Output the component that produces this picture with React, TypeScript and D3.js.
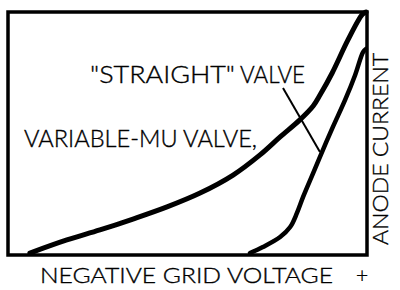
import React from "react";
import * as d3 from "d3";

const variableMuX = [6.1, 16.4, 25.6, 34.8, 44.3, 53.5, 62.7, 70.2, 75.8, 81.3, 85.0, 86.9, 90.3, 94.7, 98.6, 99.7];
const variableMuY = [0.8, 6.2, 10.3, 14.8, 19.8, 25.5, 32.9, 41.2, 48.6, 55.6, 61.3, 65.8, 74.9, 88.5, 98.8, 100];

const straightX = [67.4, 71.0, 75.8, 78.6, 80.5, 82.2, 85.0, 87.7, 90.5, 93.9, 96.7, 98.9, 99.7];
const straightY = [0.8, 3.3, 7.4, 11.5, 17.3, 23.9, 33.7, 43.2, 52.7, 63.8, 74.1, 83.5, 84.8];

const pointerX = [76.6, 86.9];
const pointerY = [68.7, 42.4];

const labelStraight = "\"STRAIGHT\"";
const labelValve = "VALVE";
const labelVarMu = "VARIABLE-MU VALVE,";
const xAxisLabel = "NEGATIVE GRID VOLTAGE";
const xAxisPlus = "+";
const yAxisLabel = "ANODE CURRENT";

const W = 400;
const H = 290;
const left = 8, right = 367, top = 12, bottom = 255;

export default function App() {
  const x = d3.scaleLinear().domain([0, 100]).range([left, right]);
  const y = d3.scaleLinear().domain([0, 100]).range([bottom, top]);
  const line = d3
    .line<[number, number]>()
    .x((d) => x(d[0]))
    .y((d) => y(d[1]))
    .curve(d3.curveCatmullRom.alpha(0.5));
  const vm = variableMuX.map((v, i) => [v, variableMuY[i]] as [number, number]);
  const st = straightX.map((v, i) => [v, straightY[i]] as [number, number]);
  const ptr = pointerX.map((v, i) => [v, pointerY[i]] as [number, number]);
  const font = "Lato, 'DejaVu Sans', sans-serif";
  return (
    <svg
      width={W}
      height={H}
      style={{ position: "absolute", left: 0, top: 0, background: "#fff" }}
    >
      <rect x={0} y={0} width={W} height={H} fill="#fff" />
      <rect
        x={left}
        y={top}
        width={right - left}
        height={bottom - top}
        fill="none"
        stroke="#000"
        strokeWidth={3.5}
      />
      <path d={line(vm) || ""} fill="none" stroke="#000" strokeWidth={5} strokeLinecap="round" />
      <path d={line(st) || ""} fill="none" stroke="#000" strokeWidth={4.5} strokeLinecap="round" />
      <path d={d3.line<[number, number]>().x((d) => x(d[0])).y((d) => y(d[1]))(ptr) || ""} fill="none" stroke="#000" strokeWidth={2} />
      <g fontFamily={font} fill="#000" stroke="#000" strokeWidth={0.35} fontSize={23} fontWeight={300}>
        <text x={90} y={83} textLength={145} lengthAdjust="spacingAndGlyphs">{labelStraight}</text>
        <text x={240} y={83} textLength={65} lengthAdjust="spacingAndGlyphs">{labelValve}</text>
        <text x={24} y={147} textLength={233} lengthAdjust="spacingAndGlyphs">{labelVarMu}</text>
        <text x={40} y={283} textLength={293} lengthAdjust="spacingAndGlyphs" fontSize={21}>{xAxisLabel}</text>
        <text x={362} y={283} textAnchor="middle" fontSize={21}>{xAxisPlus}</text>
        <text transform="translate(388,245) rotate(-90)" textLength={192} lengthAdjust="spacingAndGlyphs" fontSize={21}>{yAxisLabel}</text>
      </g>
    </svg>
  );
}
